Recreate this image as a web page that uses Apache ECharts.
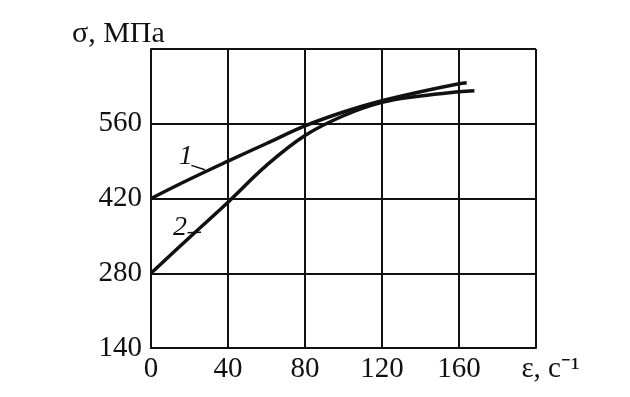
<!DOCTYPE html>
<html>
<head>
<meta charset="utf-8">
<script src="https://cdn.jsdelivr.net/npm/echarts@6/dist/echarts.min.js"></script>
<style>
    html, body { margin: 0; padding: 0; background: #fff; }
    #chart { width: 630px; height: 397px; }
</style>
</head>
<body>
<div id="chart"></div>
<script>
// кривые σ(ε)
var eps1 = [0, 20, 40, 60, 80, 100, 120, 140, 160, 164]
var sigma1 = [420, 456, 490, 523, 556, 582, 603, 620, 635, 637]
var eps2 = [0, 20, 40, 60, 80, 100, 120, 140, 160, 168]
var sigma2 = [280, 347, 413, 482, 538, 575, 600, 612, 620, 622]
var xTicks = [0, 40, 80, 120, 160, 200]
var yTicks = [140, 280, 420, 560, 700]

var font = 'Liberation Serif'
var chart = echarts.init(document.getElementById('chart'))

function pairs (xs, ys) {
    return xs.map(function (x, i) { return [x, ys[i]] })
}

// подпись кривой (номер) + короткая выноска
function curveTag (text, at, lead) {
    return {
        markPoint: {
            symbol: 'circle',
            symbolSize: 0,
            silent: true,
            label: {
                show: true,
                position: 'inside',
                formatter: text,
                fontFamily: font,
                fontStyle: 'italic',
                fontSize: 28,
                color: '#111'
            },
            data: [{ coord: at }]
        },
        markLine: {
            symbol: 'none',
            silent: true,
            label: { show: false },
            lineStyle: { color: '#111', width: 1.5, type: 'solid' },
            data: [[{ coord: lead[0] }, { coord: lead[1] }]]
        }
    }
}

var tag1 = curveTag('1', [18, 498], [[21, 482], [28, 474]])
var tag2 = curveTag('2', [15, 366], [[19, 356], [26, 357]])

var option = {
    backgroundColor: '#fff',
    animation: false,
    title: {
        text: 'σ, МПа',
        left: 67,
        top: 14,
        textStyle: { fontFamily: font, fontSize: 30, fontWeight: 'normal', color: '#111' }
    },
    grid: { left: 151, right: 94, top: 49, bottom: 49 },
    xAxis: {
        type: 'value',
        min: xTicks[0],
        max: xTicks[xTicks.length - 1],
        interval: 40,
        axisLine: { show: true, lineStyle: { color: '#111', width: 2 } },
        axisTick: { show: false },
        splitLine: { show: true, lineStyle: { color: '#111', width: 2 } },
        axisLabel: {
            margin: 7,
            fontFamily: font,
            fontSize: 29,
            color: '#111',
            showMaxLabel: true,
            formatter: function (v) {
                return v === 200 ? '    ε, c⁻¹' : String(v)
            }
        }
    },
    yAxis: {
        type: 'value',
        min: yTicks[0],
        max: yTicks[yTicks.length - 1],
        interval: 140,
        axisLine: { show: true, lineStyle: { color: '#111', width: 2 } },
        axisTick: { show: false },
        splitLine: { show: true, lineStyle: { color: '#111', width: 2 } },
        axisLabel: {
            margin: 9,
            fontFamily: font,
            fontSize: 29,
            color: '#111',
            formatter: function (v) {
                return v === 700 ? '' : String(v)
            }
        }
    },
    series: [
        Object.assign({
            name: '1',
            type: 'line',
            smooth: 0.4,
            symbol: 'none',
            lineStyle: { color: '#111', width: 3.5 },
            data: pairs(eps1, sigma1)
        }, tag1),
        Object.assign({
            name: '2',
            type: 'line',
            smooth: 0.4,
            symbol: 'none',
            lineStyle: { color: '#111', width: 3.5 },
            data: pairs(eps2, sigma2)
        }, tag2)
    ]
}
chart.setOption(option)
</script>
</body>
</html>
